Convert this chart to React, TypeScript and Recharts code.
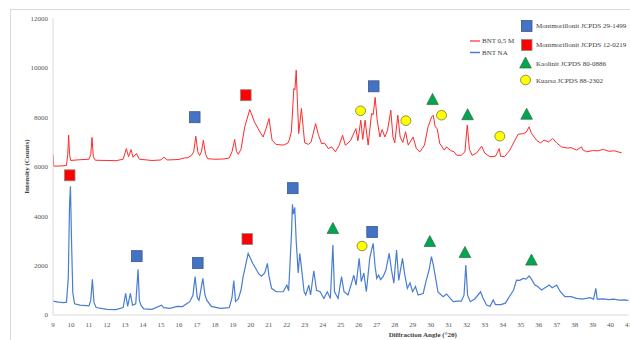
import React from 'react';
import { ComposedChart, Line, Scatter, XAxis, YAxis } from 'recharts';

// BNT 0,5 M (red)
const redAngle = [
  9.0, 9.04, 9.5, 9.75, 9.82, 9.87, 9.92, 9.98, 10.5, 11.0, 11.1, 11.17, 11.24, 11.35, 12.0, 12.5, 12.9,
  13.08, 13.2, 13.34, 13.45, 13.64, 13.8, 14.5, 15.0, 15.16, 15.35, 16.0, 16.3, 16.5, 16.7, 16.82, 16.94,
  17.05, 17.15, 17.25, 17.36, 17.48, 17.6, 18.0, 18.5, 18.8, 18.95, 19.1, 19.2, 19.3, 19.45, 19.66, 19.94,
  20.2, 20.4, 20.55, 20.68, 20.85, 21.01, 21.18, 21.4, 21.8, 22.05, 22.13, 22.25, 22.39, 22.45, 22.52, 22.58,
  22.66, 22.81, 22.92, 22.99, 23.2, 23.35, 23.6, 23.75, 23.93, 24.1, 24.3, 24.5, 24.7, 24.9, 25.1, 25.25,
  25.4, 25.55, 25.84, 25.95, 26.11, 26.22, 26.35, 26.52, 26.71, 26.8, 26.91, 27.02, 27.17, 27.3, 27.45, 27.6,
  27.78, 27.9, 28.0, 28.17, 28.3, 28.45, 28.6, 28.75, 29.02, 29.2, 29.4, 29.65, 29.85, 30.05, 30.14, 30.25,
  30.36, 30.5, 30.75, 30.88, 31.1, 31.3, 31.44, 31.7, 31.9, 32.03, 32.15, 32.3, 32.55, 32.83, 33.0, 33.29,
  33.6, 33.81, 33.88, 34.1, 34.4, 34.68, 34.86, 35.1, 35.3, 35.47, 35.6, 35.88, 36.1, 36.3, 36.55, 36.78,
  37.0, 37.27, 37.6, 37.8, 38.11, 38.39, 38.45, 38.67, 39.0, 39.3, 39.59, 39.9, 40.2, 40.4, 40.61,
];
const redCounts = [
  6500, 6020, 6030, 6050, 6500, 7270, 6500, 6250, 6280, 6300, 6500, 7180, 6400, 6260, 6250, 6240, 6300,
  6730, 6400, 6690, 6380, 6530, 6300, 6250, 6270, 6390, 6270, 6290, 6350, 6360, 6460, 6600, 7230,
  6600, 6450, 6600, 7070, 6500, 6320, 6300, 6310, 6350, 6600, 7100, 6620, 6500, 6700, 7610, 8310,
  7810, 7540, 7350, 7200, 7550, 7950, 7070, 6900, 6870, 6950, 7070, 7400, 9160, 9100, 9900, 8800,
  7340, 8350, 7500, 6970, 6900, 7000, 7740, 7300, 6930, 6950, 6730, 6800, 6600, 6850, 7270, 6870,
  6950, 7070, 7540, 7050, 7880, 7100, 7880, 6870, 8150, 8100, 8800, 7900, 7200, 7500, 7200, 7475,
  8280, 7200, 6960, 8080, 7200, 6980, 7410, 6870, 7200, 6730, 6600, 6870, 7600, 8010, 8080, 7610,
  7540, 6940, 6670, 6800, 6650, 6600, 6460, 6460, 6600, 7680, 6700, 6460, 6550, 6830, 6550, 6400,
  6420, 6730, 6420, 6400, 6670, 7070, 7310, 7330, 7380, 7610, 7350, 7070, 6960, 7070, 7000, 7140,
  6960, 6800, 6750, 6770, 6670, 6800, 6680, 6600, 6650, 6640, 6700, 6620, 6640, 6600, 6560,
];

// BNT NA (blue)
const blueAngle = [
  9.0, 9.3, 9.6, 9.75, 9.85, 9.92, 9.97, 10.03, 10.1, 10.2, 10.5, 11.0, 11.1, 11.19, 11.28, 11.4, 12.0,
  12.5, 12.9, 13.04, 13.15, 13.3, 13.42, 13.6, 13.73, 13.8, 13.9, 14.05, 14.5, 15.03, 15.15, 15.5, 15.9,
  16.2, 16.6, 16.78, 16.9, 17.02, 17.12, 17.33, 17.45, 17.55, 17.8, 18.3, 18.8, 18.95, 19.05, 19.15, 19.3,
  19.45, 19.57, 19.85, 20.1, 20.31, 20.45, 20.59, 20.77, 20.92, 21.0, 21.15, 21.4, 21.8, 22.0, 22.1, 22.26,
  22.31, 22.36, 22.44, 22.52, 22.63, 22.72, 22.8, 22.96, 23.05, 23.22, 23.32, 23.5, 23.65, 23.85, 24.06,
  24.25, 24.42, 24.56, 24.65, 24.85, 25.04, 25.18, 25.4, 25.6, 25.72, 25.85, 26.02, 26.14, 26.28, 26.42,
  26.61, 26.71, 26.8, 26.9, 27.0, 27.1, 27.21, 27.35, 27.5, 27.69, 27.82, 27.95, 28.1, 28.22, 28.43, 28.55,
  28.7, 28.85, 28.99, 29.15, 29.3, 29.58, 29.75, 29.91, 30.04, 30.15, 30.32, 30.4, 30.69, 30.88, 31.05,
  31.25, 31.5, 31.7, 31.85, 31.95, 32.05, 32.2, 32.45, 32.77, 32.9, 33.1, 33.3, 33.47, 33.6, 33.9, 34.15,
  34.4, 34.6, 34.77, 34.95, 35.14, 35.3, 35.47, 35.6, 35.79, 35.95, 36.16, 36.35, 36.59, 36.75, 37.0, 37.2,
  37.46, 37.8, 38.11, 38.45, 38.85, 39.05, 39.18, 39.25, 39.6, 39.9, 40.15, 40.5, 40.8, 41.0,
];
const blueCounts = [
  560, 520, 500, 520, 1500, 4500, 5210, 3000, 900, 450, 400, 370, 600, 1440, 500, 300, 230,
  220, 300, 875, 350, 875, 400, 450, 1850, 600, 380, 250, 230, 400, 300, 270, 350,
  340, 540, 800, 1550, 700, 600, 1480, 800, 600, 350, 270, 300, 700, 1390, 550, 650,
  1000, 1550, 2490, 2090, 1830, 1650, 1570, 1700, 2090, 1600, 1080, 940, 940, 1210, 980, 3300,
  4480, 4080, 4350, 3000, 1700, 2490, 2000, 940, 810, 1210, 810, 1790, 1000, 940, 670,
  940, 670, 2830, 940, 670, 1550, 940, 810, 1290, 1610, 1210, 2290, 1350, 1700, 940,
  2290, 2630, 2900, 2000, 1480, 1610, 1430, 1550, 1800, 2490, 1810, 1290, 2630, 1400, 2290, 1650,
  1080, 1300, 940, 1150, 810, 870, 1400, 1830, 2360, 2000, 1290, 930, 740, 850, 700,
  540, 560, 560, 800, 2020, 800, 540, 650, 940, 700, 400, 350, 610, 420, 420, 480,
  780, 1000, 1410, 1400, 1480, 1450, 1580, 1450, 1210, 1150, 1010, 1100, 1210, 1100, 1210, 950,
  740, 740, 670, 640, 700, 640, 1080, 640, 650, 620, 640, 600, 610, 580,
];

// Phase markers
const mont1499Angle = [16.88, 26.83, 13.66, 17.05, 22.33, 26.74];
const mont1499Counts = [8000, 9250, 2380, 2100, 5130, 3360];
const mont0219Angle = [19.72, 9.93, 19.8];
const mont0219Counts = [8890, 5650, 3070];
const kaolinitAngle = [30.1, 32.05, 35.33, 24.56, 29.95, 31.9, 35.6];
const kaolinitCounts = [8720, 8100, 8120, 3500, 2970, 2530, 2220];
const kuarsaAngle = [26.1, 28.62, 30.6, 33.84, 26.18];
const kuarsaCounts = [8260, 7860, 8080, 7230, 2790];

const xTicks = [9, 10, 11, 12, 13, 14, 15, 16, 17, 18, 19, 20, 21, 22, 23, 24, 25, 26, 27, 28, 29, 30, 31, 32, 33, 34, 35, 36, 37, 38, 39, 40, 41];
const yTicks = [0, 2000, 4000, 6000, 8000, 10000, 12000];

const seriesNames = ['BNT 0,5 M', 'BNT NA'];
const phaseNames = ['Montmorillonit JCPDS 29-1499', 'Montmorillonit JCPDS 12-0219', 'Kaolinit JCPDS 80-0886', 'Kuarsa JCPDS 88-2302'];

const pts = (xs: number[], ys: number[]) => xs.map((x, i) => ({ x, y: ys[i] }));
const redData = pts(redAngle, redCounts);
const blueData = pts(blueAngle, blueCounts);

const FONT = '"Liberation Serif", "Times New Roman", serif';
const C = {
  red: '#FF2B2B',
  blue: '#4A7DD1',
  sqBlue: '#4472C4', sqBlueEdge: '#3A5A8C',
  sqRed: '#FF0000', sqRedEdge: '#8A8A8A',
  tri: '#00A651', triEdge: '#2E6B3E',
  circ: '#FFFF00', circEdge: '#7A7A30',
  axis: '#D9D9D9', text: '#595959',
};

const square = (fill: string, edge: string) => (p: any) =>
  <rect x={p.cx - 5.3} y={p.cy - 5.5} width={10.6} height={11} fill={fill} stroke={edge} strokeWidth={0.8} />;
const triangle = (p: any) =>
  <polygon points={`${p.cx},${p.cy - 6} ${p.cx + 5.8},${p.cy + 5} ${p.cx - 5.8},${p.cy + 5}`} fill={C.tri} stroke={C.triEdge} strokeWidth={0.7} />;
const circle = (p: any) =>
  <ellipse cx={p.cx} cy={p.cy} rx={5} ry={4.8} fill={C.circ} stroke={C.circEdge} strokeWidth={0.8} />;

export default function App() {
  return (
    <div style={{ position: 'fixed', left: 0, top: 0, width: 630, height: 340, overflow: 'hidden', background: '#fff' }}>
      <div style={{ position: 'absolute', left: 10, top: 9, width: 700, height: 400, borderLeft: `1px solid ${C.axis}`, borderTop: `1px solid ${C.axis}` }} />
      <div style={{ position: 'absolute', left: 0, top: 0 }}>
        <ComposedChart width={630} height={340} margin={{ top: 18.3, right: 1.4, left: 20, bottom: 0 }}>
          <XAxis
            type="number" dataKey="x" domain={[9, 41]} ticks={xTicks} interval={0} allowDataOverflow
            height={25} tickLine={false} tickSize={5} tickMargin={2}
            axisLine={{ stroke: C.axis }}
            tick={{ fontSize: 7, fill: C.text, fontFamily: FONT }}
            label={{ value: 'Diffraction Angle (°2θ)', position: 'insideBottom', offset: 3, dx: 82, style: { fontSize: 7, fontWeight: 'bold', fill: '#404040', fontFamily: FONT } }}
          />
          <YAxis
            type="number" domain={[0, 12000]} ticks={yTicks} interval={0} width={33}
            tickLine={false} tickSize={3} tickMargin={2}
            axisLine={{ stroke: C.axis }}
            tick={{ fontSize: 7, fill: C.text, fontFamily: FONT }}
            label={{ value: 'Intensity (Counts)', angle: -90, position: 'insideLeft', offset: 7, style: { textAnchor: 'middle', fontSize: 7, fontWeight: 'bold', fill: '#404040', fontFamily: FONT } }}
          />
          <Line data={redData} dataKey="y" type="linear" stroke={C.red} strokeWidth={1} dot={false} isAnimationActive={false} name={seriesNames[0]} />
          <Line data={blueData} dataKey="y" type="linear" stroke={C.blue} strokeWidth={1.2} dot={false} isAnimationActive={false} name={seriesNames[1]} />
          <Scatter data={pts(mont1499Angle, mont1499Counts)} dataKey="y" shape={square(C.sqBlue, C.sqBlueEdge)} isAnimationActive={false} />
          <Scatter data={pts(mont0219Angle, mont0219Counts)} dataKey="y" shape={square(C.sqRed, C.sqRedEdge)} isAnimationActive={false} />
          <Scatter data={pts(kaolinitAngle, kaolinitCounts)} dataKey="y" shape={triangle} isAnimationActive={false} />
          <Scatter data={pts(kuarsaAngle, kuarsaCounts)} dataKey="y" shape={circle} isAnimationActive={false} />
        </ComposedChart>
      </div>
      <svg width={630} height={340} style={{ position: 'absolute', left: 0, top: 0, pointerEvents: 'none' }}>
        <g fontFamily={FONT} fontSize={7} fill="#404040">
          <line x1={470} x2={480} y1={41} y2={41} stroke={C.red} strokeWidth={1.2} />
          <text x={482} y={41} dominantBaseline="central">{seriesNames[0]}</text>
          <line x1={470} x2={480} y1={52.5} y2={52.5} stroke={C.blue} strokeWidth={1.5} />
          <text x={482} y={52.5} dominantBaseline="central">{seriesNames[1]}</text>

          {square(C.sqBlue, C.sqBlueEdge)({ cx: 526.7, cy: 26 })}
          <text x={536} y={26} dominantBaseline="central">{phaseNames[0]}</text>
          {square(C.sqRed, C.sqRedEdge)({ cx: 526.7, cy: 45 })}
          <text x={536} y={45} dominantBaseline="central">{phaseNames[1]}</text>
          {triangle({ cx: 525.5, cy: 63 })}
          <text x={536} y={64} dominantBaseline="central">{phaseNames[2]}</text>
          {circle({ cx: 525.5, cy: 80 })}
          <text x={536} y={80.5} dominantBaseline="central">{phaseNames[3]}</text>
        </g>
      </svg>
    </div>
  );
}
